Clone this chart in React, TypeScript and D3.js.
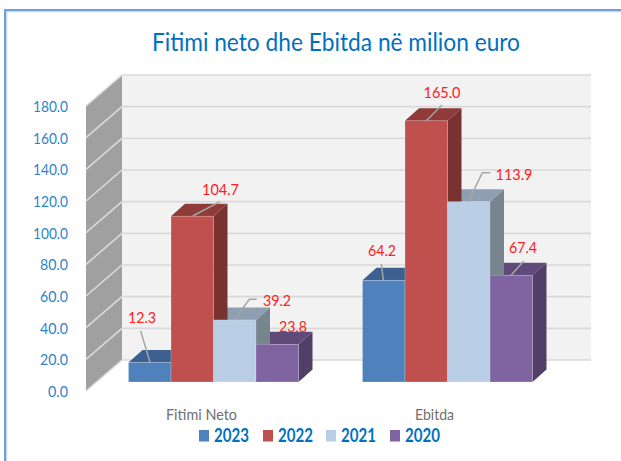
import React from "react";
import * as d3 from "d3";

const categories = ["Fitimi Neto", "Ebitda"];
const years = ["2023", "2022", "2021", "2020"];
const values2023 = [12.3, 64.2];
const values2022 = [104.7, 165.0];
const values2021 = [39.2, 113.9];
const values2020 = [23.8, 67.4];
const yTicks = [0, 20, 40, 60, 80, 100, 120, 140, 160, 180];
const series = [values2023, values2022, values2021, values2020];
const fronts = ["#4f81bd", "#c0504d", "#b9cde5", "#8064a2"];
const tops = ["#3c6190", "#8e3b39", "#8f9fb2", "#5f4a79"];
const sides = ["#335478", "#7a3230", "#77858f", "#523f67"];

const W = 621, H = 461;
const DX = 36, DY = 31;
const wallLeft = 86, wallRight = 122, wallBottomFront = 391;
const bDX = 14, bDY = 12.5;
const barBase = 382;
const blue = "#0070c0";
const font = "Lato, 'Open Sans', sans-serif";

const y = d3.scaleLinear().domain([0, 180]).range([0, 285]);
const groupX = d3.scaleBand<string>().domain(categories).range([128.5, 532.5]).paddingInner(64 / 234);
const seriesX = d3.scaleBand<string>().domain(years).range([0, groupX.bandwidth()]);
const barW = seriesX.bandwidth();

const labelInfo = [
  [
    { tx: 142, ty: 323, pts: [[140.7, 331], [150, 362.3]] },
    { tx: 220.5, ty: 195, pts: [[192.7, 216], [220, 201.7]] },
    { tx: 277, ty: 306, pts: [[234.3, 320], [249.3, 299.3], [256.7, 299.3]] },
    { tx: 293, ty: 332, pts: [] as number[][] },
  ],
  [
    { tx: 382, ty: 256, pts: [[383.3, 280], [381.3, 264]] },
    { tx: 442, ty: 98, pts: [[426, 121], [442, 105]] },
    { tx: 514, ty: 180, pts: [[468.3, 201.7], [482.3, 172.7], [490.3, 172.7]] },
    { tx: 523, ty: 253, pts: [[510.7, 275.7], [523.7, 261]] },
  ],
];

const legendX = [199, 263, 326, 390];

export default function App() {
  const line = d3.line();
  return (
    <svg width={W} height={H} style={{ position: "absolute", left: 0, top: 0, fontFamily: font }}>
      <rect width={W} height={H} fill="#fff" />
      <path d="M6.5 461V11.5H621" fill="none" stroke="#c5d8ee" strokeWidth={1.5} />
      <path d="M5 461V10H621" fill="none" stroke="#6fa3d8" strokeWidth={2} />
      <text x={336} y={51} textAnchor="middle" fontSize={25} fill={blue} textLength={368} lengthAdjust="spacingAndGlyphs">Fitimi neto dhe Ebitda në milion euro</text>

      <polygon points={`${wallRight},${wallBottomFront - DY - 285} 591,${wallBottomFront - DY - 285} 591,${wallBottomFront - DY} ${wallRight},${wallBottomFront - DY}`} fill="#f2f2f2" />
      <polygon points={`${wallLeft},${wallBottomFront} ${wallLeft + DX},${wallBottomFront - DY} ${wallRight},${wallBottomFront - DY - 285} ${wallLeft},${wallBottomFront - 285}`} fill="#a0a0a0" />
      {yTicks.map((t) => {
        const yy = wallBottomFront - y(t);
        const label = t.toFixed(1);
        return (
          <g key={t}>
            <polyline points={`${wallLeft},${yy} ${wallRight},${yy - DY} 591,${yy - DY}`} fill="none" stroke="#d9d9d9" strokeWidth={1.6} />
            <text x={68} y={yy + 6} textAnchor="end" fontSize={16} fill="#2e83c9" textLength={label.length === 5 ? 35 : label.length === 4 ? 28 : 20} lengthAdjust="spacingAndGlyphs">{label}</text>
          </g>
        );
      })}

      {categories.map((c, ci) => {
        const gx = groupX(c) as number;
        return (
          <g key={c}>
            {[3, 2, 1, 0].map((si) => {
              const x0 = gx + (seriesX(years[si]) as number);
              const t = barBase - y(series[si][ci]);
              return (
                <g key={si}>
                  <polygon points={`${x0 + barW},${barBase} ${x0 + barW + bDX},${barBase - bDY} ${x0 + barW + bDX},${t - bDY} ${x0 + barW},${t}`} fill={sides[si]} />
                  <polygon points={`${x0},${t} ${x0 + bDX},${t - bDY} ${x0 + barW + bDX},${t - bDY} ${x0 + barW},${t}`} fill={tops[si]} />
                </g>
              );
            })}
            {[0, 1, 2, 3].map((si) => {
              const x0 = gx + (seriesX(years[si]) as number);
              const h = y(series[si][ci]);
              return <rect key={si} x={x0} y={barBase - h} width={barW} height={h} fill={fronts[si]} stroke="#ffffff" strokeOpacity={0.25} strokeWidth={0.8} />;
            })}
            {labelInfo[ci].map((l, si) => {
              const label = series[si][ci].toFixed(1);
              return (
                <g key={si}>
                  {l.pts.length > 0 && <path d={line(l.pts as [number, number][]) || ""} fill="none" stroke="#a6a6a6" strokeWidth={1.5} />}
                  <text x={l.tx} y={l.ty} textAnchor="middle" fontSize={16} fill="#ff2020" textLength={label.length === 5 ? 37 : 28} lengthAdjust="spacingAndGlyphs">{label}</text>
                </g>
              );
            })}
          </g>
        );
      })}

      <text x={201.5} y={420} textAnchor="middle" fontSize={16} fill="#6f6f6f" textLength={71} lengthAdjust="spacingAndGlyphs">Fitimi Neto</text>
      <text x={434.5} y={420} textAnchor="middle" fontSize={16} fill="#6f6f6f" textLength={39} lengthAdjust="spacingAndGlyphs">Ebitda</text>

      {years.map((yr, i) => (
        <g key={yr}>
          <rect x={legendX[i]} y={430} width={10} height={11.5} fill={fronts[i]} />
          <text x={legendX[i] + 15} y={442} fontSize={18} fontWeight={700} fill={blue} textLength={35} lengthAdjust="spacingAndGlyphs">{yr}</text>
        </g>
      ))}
    </svg>
  );
}
